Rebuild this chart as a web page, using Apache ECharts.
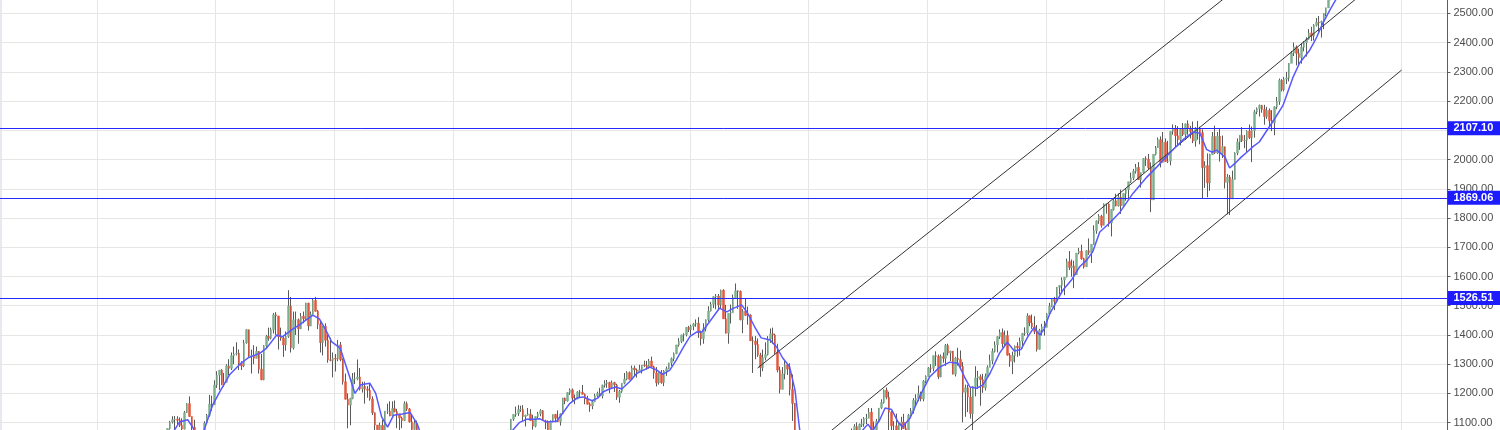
<!DOCTYPE html>
<html>
<head>
<meta charset="utf-8">
<script src="https://cdn.jsdelivr.net/npm/echarts@6/dist/echarts.min.js"></script>
<style>
    html, body { margin: 0; padding: 0; background: #fff; }
    #chart { width: 1500px; height: 430px; }
</style>
</head>
<body>
<div id="chart"></div>
<script>
// half-month bars (1st-15th, 16th-end); open of a bar = close of the one before
// segment A: 1998-01 .. 2002-06
var startA = [1998, 0];
var openA = 970;
var closeA = [
    950, 980, 1020, 1049, 1080, 1102, 1110, 1112, 1108, 1091, 1078, 1134, 1165, 1121, 1084, 957, 1029, 1017, 1005, 1099, 1125, 1164, 1162, 1229,
    1263, 1280, 1230, 1238, 1294, 1286, 1329, 1335, 1337, 1302, 1294, 1373, 1418, 1329, 1330, 1320, 1344, 1283, 1247, 1363, 1395, 1389, 1418, 1469,
    1465, 1394, 1389, 1366, 1395, 1499, 1356, 1452, 1452, 1421, 1464, 1455, 1509, 1431, 1471, 1518, 1481, 1437, 1374, 1429, 1382, 1315, 1313, 1320,
    1318, 1366, 1315, 1240, 1180, 1160, 1183, 1249, 1250, 1256, 1215, 1224, 1215, 1211, 1181, 1134, 1092, 1041, 1091, 1060, 1139, 1139, 1123, 1148,
    1138, 1130, 1116, 1107, 1165, 1147, 1103, 1077, 1098, 1067, 1007, 990
];
var highA = [
    976, 985, 1025, 1052, 1080, 1106, 1122, 1123, 1122, 1118, 1115, 1140, 1167, 1190, 1121, 1110, 1030, 1066, 1032, 1105, 1130, 1195, 1192, 1245,
    1276, 1280, 1283, 1270, 1300, 1317, 1340, 1360, 1375, 1350, 1310, 1383, 1420, 1418, 1350, 1365, 1360, 1345, 1335, 1365, 1400, 1425, 1425, 1475,
    1478, 1465, 1425, 1395, 1412, 1553, 1530, 1480, 1480, 1456, 1475, 1480, 1510, 1510, 1480, 1525, 1530, 1485, 1450, 1430, 1440, 1400, 1390, 1340,
    1335, 1383, 1376, 1320, 1268, 1200, 1185, 1270, 1272, 1316, 1287, 1240, 1240, 1225, 1234, 1190, 1135, 1092, 1100, 1110, 1140, 1165, 1173, 1173,
    1176, 1147, 1130, 1121, 1173, 1172, 1150, 1130, 1110, 1107, 1070, 1010
];
var lowA = [
    912, 950, 980, 1018, 1045, 1076, 1097, 1076, 1095, 1085, 1074, 1077, 1133, 1120, 1070, 957, 940, 990, 923, 1000, 1098, 1120, 1140, 1160,
    1219, 1212, 1228, 1223, 1238, 1262, 1280, 1300, 1330, 1280, 1280, 1290, 1370, 1325, 1268, 1300, 1320, 1268, 1245, 1245, 1355, 1380, 1385, 1405,
    1400, 1350, 1380, 1325, 1346, 1390, 1340, 1350, 1400, 1370, 1420, 1440, 1450, 1415, 1430, 1470, 1480, 1420, 1340, 1330, 1360, 1305, 1310, 1255,
    1275, 1310, 1310, 1230, 1180, 1081, 1091, 1180, 1232, 1245, 1210, 1203, 1165, 1185, 1175, 1126, 1055, 945, 1025, 1050, 1054, 1130, 1122, 1120,
    1135, 1081, 1074, 1081, 1106, 1140, 1100, 1070, 1048, 1060, 1000, 950
];

// segment B: 2003-10 .. 2008-12
var startB = [2003, 9];
var openB = 996;
var closeB = [
    1049, 1051, 1058, 1058, 1074, 1112,
    1128, 1131, 1145, 1145, 1121, 1126, 1129, 1107, 1088, 1121, 1130, 1141, 1106, 1102, 1064, 1104, 1128, 1115, 1103, 1130, 1184, 1174, 1203, 1212,
    1184, 1181, 1205, 1204, 1197, 1181, 1163, 1157, 1171, 1192, 1200, 1191, 1228, 1234, 1237, 1220, 1237, 1229, 1187, 1207, 1235, 1249, 1271, 1248,
    1287, 1280, 1275, 1281, 1297, 1295, 1289, 1311, 1291, 1270, 1236, 1270, 1237, 1277, 1285, 1304, 1319, 1336, 1366, 1378, 1400, 1401, 1426, 1418,
    1430, 1438, 1440, 1407, 1387, 1421, 1452, 1482, 1505, 1531, 1533, 1503, 1553, 1455, 1406, 1474, 1476, 1527, 1551, 1549, 1452, 1481, 1467, 1468,
    1380, 1379, 1367, 1331, 1288, 1323, 1333, 1386, 1404, 1400, 1341, 1280, 1214, 1267, 1298, 1283, 1214, 1166, 907, 969, 912, 896, 880, 903
];
var highB = [
    1049, 1054, 1063, 1062, 1075, 1112,
    1129, 1155, 1160, 1158, 1160, 1127, 1150, 1146, 1127, 1121, 1137, 1146, 1143, 1110, 1108, 1108, 1128, 1130, 1142, 1132, 1185, 1186, 1204, 1217,
    1217, 1196, 1208, 1212, 1229, 1200, 1192, 1169, 1178, 1199, 1206, 1219, 1230, 1245, 1246, 1240, 1244, 1240, 1233, 1212, 1235, 1270, 1276, 1275,
    1295, 1295, 1285, 1298, 1297, 1312, 1311, 1318, 1326, 1295, 1290, 1272, 1280, 1280, 1292, 1305, 1323, 1340, 1366, 1389, 1401, 1406, 1427, 1431,
    1435, 1441, 1453, 1461, 1415, 1440, 1453, 1498, 1513, 1532, 1540, 1540, 1555, 1556, 1503, 1474, 1504, 1538, 1576, 1552, 1552, 1488, 1524, 1497,
    1471, 1395, 1396, 1388, 1339, 1350, 1375, 1396, 1422, 1425, 1404, 1370, 1292, 1290, 1313, 1300, 1303, 1265, 1167, 985, 1007, 916, 919, 915
];
var lowB = [
    990, 1018, 1043, 1031, 1056, 1068,
    1106, 1120, 1123, 1137, 1104, 1087, 1124, 1107, 1076, 1084, 1114, 1122, 1106, 1078, 1060, 1064, 1101, 1101, 1102, 1090, 1130, 1163, 1172, 1195,
    1173, 1163, 1180, 1184, 1196, 1163, 1162, 1137, 1146, 1170, 1187, 1188, 1183, 1220, 1219, 1201, 1219, 1205, 1178, 1168, 1202, 1231, 1245, 1248,
    1245, 1260, 1254, 1275, 1268, 1291, 1281, 1285, 1290, 1250, 1224, 1230, 1233, 1225, 1260, 1283, 1294, 1310, 1334, 1360, 1372, 1378, 1395, 1410,
    1400, 1416, 1428, 1390, 1364, 1370, 1412, 1445, 1480, 1492, 1488, 1484, 1492, 1455, 1405, 1370, 1439, 1476, 1527, 1489, 1450, 1406, 1465, 1435,
    1380, 1270, 1317, 1325, 1257, 1276, 1313, 1330, 1373, 1370, 1335, 1272, 1200, 1214, 1248, 1263, 1193, 1106, 839, 845, 818, 741, 815, 857
];

// segment C: 2009-06 .. 2017-12
var startC = [2009, 5];
var openC = 919;
var closeC = [
    946, 919, 940, 987, 1005, 1020, 1053, 1057, 1087, 1036, 1093, 1096, 1114, 1115,
    1136, 1074, 1075, 1104, 1150, 1169, 1211, 1187, 1136, 1089, 1089, 1031, 1096, 1102, 1080, 1049, 1125, 1141, 1176, 1183, 1199, 1181, 1242, 1258,
    1287, 1286, 1329, 1327, 1257, 1326, 1320, 1364, 1338, 1345, 1266, 1321, 1316, 1292, 1204, 1219, 1188, 1131, 1224, 1253, 1257, 1247, 1219, 1258,
    1289, 1312, 1344, 1366, 1394, 1408, 1370, 1398, 1331, 1310, 1330, 1362, 1356, 1379, 1405, 1407, 1465, 1441, 1428, 1412, 1351, 1416, 1428, 1426,
    1472, 1498, 1521, 1515, 1563, 1569, 1588, 1598, 1651, 1631, 1636, 1606, 1680, 1686, 1661, 1633, 1688, 1682, 1710, 1757, 1790, 1806, 1775, 1848,
    1848, 1783, 1829, 1859, 1841, 1872, 1842, 1884, 1897, 1924, 1937, 1960, 1973, 1931, 1955, 2003, 2001, 1972, 1862, 2018, 2040, 2068, 1990, 2059,
    1993, 1995, 2096, 2105, 2081, 2068, 2106, 2086, 2122, 2107, 2096, 2063, 2108, 2104, 2092, 1972, 1979, 1920, 2017, 2079, 2023, 2080, 2021, 2044,
    1922, 1940, 1865, 1932, 2022, 2060, 2083, 2065, 2066, 2097, 2075, 2099, 2163, 2174, 2185, 2171, 2147, 2168, 2133, 2126, 2180, 2199, 2271, 2239,
    2275, 2279, 2329, 2364, 2385, 2363, 2349, 2384, 2400, 2412, 2433, 2423, 2459, 2470, 2468, 2472, 2500, 2519, 2557, 2575, 2579, 2648, 2662, 2674
];
var highC = [
    956, 946, 945, 990, 1018, 1040, 1055, 1080, 1095, 1101, 1097, 1113, 1119, 1130,
    1150, 1150, 1104, 1113, 1150, 1180, 1214, 1220, 1206, 1140, 1105, 1131, 1100, 1120, 1130, 1100, 1130, 1150, 1184, 1197, 1227, 1206, 1246, 1262,
    1290, 1300, 1330, 1344, 1333, 1333, 1340, 1369, 1370, 1346, 1345, 1325, 1356, 1347, 1307, 1230, 1230, 1220, 1225, 1293, 1277, 1265, 1267, 1268,
    1296, 1333, 1354, 1378, 1396, 1419, 1422, 1415, 1415, 1338, 1343, 1364, 1375, 1391, 1407, 1426, 1474, 1467, 1470, 1464, 1434, 1421, 1438, 1448,
    1475, 1510, 1524, 1530, 1564, 1570, 1597, 1598, 1661, 1687, 1658, 1654, 1680, 1698, 1709, 1664, 1690, 1730, 1710, 1775, 1792, 1813, 1811, 1850,
    1849, 1850, 1830, 1867, 1883, 1884, 1897, 1884, 1902, 1924, 1955, 1968, 1985, 1991, 1955, 2005, 2011, 2019, 1990, 2018, 2046, 2075, 2079, 2094,
    2072, 2064, 2097, 2120, 2118, 2114, 2107, 2125, 2123, 2134, 2115, 2130, 2111, 2132, 2112, 2103, 1994, 2021, 2020, 2094, 2116, 2094, 2104, 2082,
    2044, 1950, 1947, 1962, 2025, 2072, 2083, 2111, 2084, 2100, 2120, 2113, 2170, 2178, 2188, 2187, 2187, 2180, 2175, 2169, 2182, 2214, 2277, 2275,
    2282, 2300, 2330, 2371, 2400, 2390, 2379, 2398, 2405, 2418, 2446, 2454, 2463, 2484, 2491, 2475, 2500, 2519, 2557, 2582, 2597, 2657, 2665, 2695
];
var lowC = [
    915, 888, 869, 940, 978, 978, 1000, 1040, 1020, 1033, 1029, 1085, 1086, 1095,
    1115, 1071, 1045, 1075, 1100, 1147, 1165, 1180, 1065, 1040, 1042, 1028, 1011, 1055, 1078, 1040, 1049, 1120, 1131, 1159, 1173, 1173, 1173, 1235,
    1257, 1271, 1276, 1294, 1249, 1255, 1305, 1294, 1330, 1311, 1265, 1258, 1295, 1283, 1101, 1120, 1136, 1114, 1075, 1190, 1215, 1158, 1202, 1210,
    1258, 1290, 1300, 1340, 1340, 1386, 1357, 1358, 1329, 1291, 1266, 1306, 1325, 1329, 1354, 1397, 1398, 1430, 1421, 1403, 1343, 1350, 1398, 1398,
    1426, 1470, 1495, 1485, 1514, 1538, 1540, 1536, 1597, 1622, 1599, 1560, 1605, 1676, 1657, 1627, 1633, 1674, 1646, 1708, 1746, 1780, 1767, 1775,
    1815, 1770, 1737, 1825, 1840, 1839, 1814, 1842, 1859, 1868, 1920, 1930, 1952, 1930, 1904, 1954, 1978, 1965, 1820, 1862, 2014, 2040, 1973, 1990,
    1992, 1988, 1980, 2085, 2040, 2045, 2048, 2080, 2067, 2085, 2072, 2056, 2044, 2068, 2052, 1867, 1903, 1871, 1893, 2016, 2019, 2019, 1993, 2005,
    1901, 1812, 1810, 1865, 1932, 2015, 2033, 2060, 2039, 2025, 2070, 1991, 2075, 2155, 2147, 2160, 2119, 2139, 2114, 2097, 2083, 2172, 2187, 2233,
    2233, 2258, 2267, 2330, 2354, 2322, 2323, 2328, 2370, 2352, 2410, 2405, 2407, 2455, 2437, 2417, 2446, 2490, 2519, 2545, 2566, 2575, 2605, 2662
];

// moving average (decimal year, value)
var maYears = [
    1998.0, 1998.2, 1998.39, 1998.53, 1998.62, 1998.7, 1998.79, 1998.95, 1999.07, 1999.24, 1999.41, 1999.55, 1999.75, 1999.86,
    2000.03, 2000.13, 2000.3, 2000.42, 2000.55, 2000.64, 2000.75, 2000.85, 2000.96, 2001.1, 2001.26, 2001.35, 2001.45, 2001.6,
    2001.7, 2001.8, 2001.9, 2002.0, 2002.15, 2002.28, 2002.4, 2002.5, 2002.6, 2003.0, 2003.9,
    2004.0, 2004.12, 2004.25, 2004.38, 2004.47, 2004.58, 2004.75, 2004.88, 2004.97, 2005.1, 2005.2, 2005.35, 2005.45, 2005.53,
    2005.64, 2005.75, 2005.85, 2005.98, 2006.1, 2006.2, 2006.32, 2006.44, 2006.54, 2006.66, 2006.77, 2006.88, 2007.0, 2007.11,
    2007.2, 2007.33, 2007.5, 2007.62, 2007.72, 2007.87, 2007.97, 2008.09, 2008.2, 2008.35, 2008.46, 2008.56, 2008.68, 2008.77,
    2008.85, 2009.0, 2009.5, 2009.7, 2009.85,
    2010.0, 2010.08, 2010.2, 2010.29, 2010.4, 2010.5, 2010.58, 2010.71, 2010.87, 2011.04, 2011.21, 2011.38, 2011.52, 2011.63,
    2011.72, 2011.84, 2011.94, 2012.06, 2012.22, 2012.35, 2012.47, 2012.58, 2012.7, 2012.8, 2012.9, 2012.97, 2013.07, 2013.29,
    2013.44, 2013.57, 2013.69, 2013.79, 2013.91, 2014.08, 2014.25, 2014.47, 2014.7, 2014.87, 2015.09, 2015.31, 2015.48, 2015.6,
    2015.66, 2015.71, 2015.8, 2015.88, 2016.02, 2016.1, 2016.18, 2016.3, 2016.39, 2016.5, 2016.6, 2016.73, 2016.83, 2017.0,
    2017.17, 2017.28, 2017.45, 2017.52, 2017.57, 2017.67, 2017.79, 2017.9, 2018.0
];
var maValues = [
    975, 1040, 1102, 1110, 1082, 1040, 1065, 1160, 1205, 1265, 1300, 1322, 1338, 1355,
    1400, 1394, 1420, 1435, 1455, 1468, 1455, 1420, 1376, 1355, 1257, 1200, 1230, 1235,
    1200, 1120, 1085, 1125, 1130, 1135, 1095, 1040, 960, 880, 1040,
    1072, 1100, 1112, 1112, 1113, 1102, 1105, 1140, 1165, 1185, 1188, 1175, 1185, 1205,
    1215, 1222, 1215, 1240, 1268, 1278, 1290, 1280, 1265, 1280, 1315, 1355, 1395, 1410,
    1410, 1445, 1492, 1479, 1490, 1503, 1475, 1428, 1390, 1383, 1359, 1322, 1291, 1212,
    1075, 880, 880, 1010, 1060,
    1095, 1072, 1110, 1150, 1145, 1105, 1085, 1115, 1188, 1256, 1290, 1307, 1303, 1256,
    1222, 1218, 1229, 1269, 1338, 1375, 1345, 1350, 1395, 1425, 1400, 1420, 1474, 1554,
    1590, 1633, 1656, 1684, 1752, 1784, 1820, 1884, 1939, 1974, 2022, 2067, 2094, 2090,
    2060, 2035, 2025, 2032, 2009, 1971, 1985, 2009, 2025, 2045, 2060, 2100, 2130, 2185,
    2282, 2330, 2374, 2400, 2419, 2466, 2511, 2550, 2600
];

// channel lines (decimal year, price) and horizontal levels
var channelUpper = [[2008.14, 1287], [2016.3, 2598]];
var channelMiddle = [[2009.0, 1009], [2018.3, 2561]];
var channelLower = [[2011.0, 969], [2019.0, 2306]];
var levels = [2107.10, 1869.06, 1526.51];

var wicks = [];
var bodies = [];

function addSegment(start, firstOpen, closes, highs, lows) {
    var prev = firstOpen;
    for (var i = 0; i < closes.length; i++) {
        var x = start[0] + (start[1] * 2 + i + 0.5) / 24;
        var c = closes[i];
        wicks.push([x, prev, c, lows[i], highs[i]]);
        bodies.push([x, prev, c, Math.min(prev, c), Math.max(prev, c)]);
        prev = c;
    }
}
addSegment(startA, openA, closeA, highA, lowA);
addSegment(startB, openB, closeB, highB, lowB);
addSegment(startC, openC, closeC, highC, lowC);

var maData = [];
for (var i = 0; i < maYears.length; i++) {
    maData.push([maYears[i], maValues[i]]);
}

function channel(points) {
    return {
        type: "line",
        data: points,
        symbol: "none",
        silent: true,
        lineStyle: { color: "#333", width: 1 },
        z: 4
    };
}

var myChart = echarts.init(document.getElementById("chart"));
myChart.setOption({
    animation: false,
    backgroundColor: "#fff",
    graphic: [
        // thin panel edge on the left
        { type: "rect", left: 0, top: 0, shape: { width: 2, height: 430 }, style: { fill: "#e6e9ee" }, silent: true }
    ],
    grid: {
        left: -21.6,
        right: 52.5,
        top: -15.9,
        bottom: -21.9,
        outerBoundsMode: "none"
    },
    xAxis: {
        type: "value",
        min: 1995,
        max: 2019.774,
        interval: 2,
        axisLine: { show: false },
        axisTick: { show: false },
        axisLabel: { show: false },
        splitLine: { show: true, lineStyle: { color: "#e6e6e6", width: 1 } }
    },
    yAxis: {
        type: "value",
        position: "right",
        min: 1000,
        max: 2600,
        interval: 100,
        axisLine: { show: true, lineStyle: { color: "#5d5d5d", width: 1 } },
        axisTick: { show: true, length: 3, lineStyle: { color: "#5d5d5d" } },
        axisLabel: {
            margin: 6,
            color: "#4d4d4d",
            fontSize: 11,
            fontFamily: "Liberation Sans, Arial, sans-serif",
            formatter: function (v) { return v.toFixed(2); }
        },
        splitLine: { show: true, lineStyle: { color: "#e6e6e6", width: 1 } }
    },
    series: [
        {
            type: "candlestick",
            data: wicks,
            barWidth: 1,
            large: false,
            silent: true,
            itemStyle: {
                color: "#5a5a5a",
                color0: "#5a5a5a",
                borderColor: "#5a5a5a",
                borderColor0: "#5a5a5a",
                borderWidth: 1
            },
            z: 2
        },
        {
            type: "candlestick",
            data: bodies,
            barWidth: 2,
            large: false,
            silent: true,
            itemStyle: {
                color: "#7fb08e",
                color0: "#e2573d",
                borderColor: "#7fb08e",
                borderColor0: "#e2573d",
                borderWidth: 0.5
            },
            z: 3
        },
        {
            type: "line",
            data: maData,
            symbol: "none",
            silent: true,
            lineStyle: { color: "#5858ff", width: 1.5 },
            z: 5,
            markLine: {
                silent: true,
                symbol: "none",
                lineStyle: { color: "#2626ff", width: 1, type: "solid" },
                label: {
                    show: true,
                    position: "end",
                    distance: 0,
                    formatter: function (p) { return p.value.toFixed(2); },
                    color: "#fff",
                    backgroundColor: "#1c1cff",
                    fontWeight: "bold",
                    fontSize: 11,
                    fontFamily: "Liberation Sans, Arial, sans-serif",
                    padding: [2, 10, 1, 6]
                },
                data: levels.map(function (v) { return { yAxis: v }; })
            }
        },
        channel(channelUpper),
        channel(channelMiddle),
        channel(channelLower)
    ]
});
</script>
</body>
</html>
